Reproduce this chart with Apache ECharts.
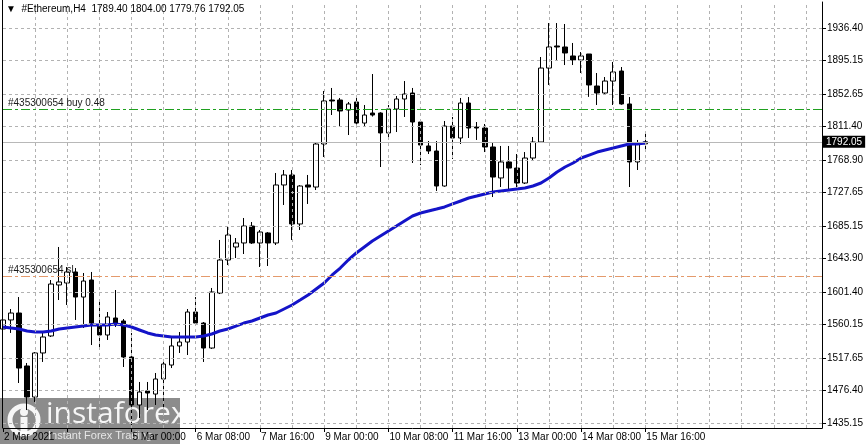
<!DOCTYPE html>
<html><head><meta charset="utf-8">
<script src="https://cdn.jsdelivr.net/npm/echarts@6/dist/echarts.min.js"></script>
<style>html,body{margin:0;padding:0;background:#fff}#c{width:868px;height:444px}</style>
</head><body><div id="c"></div><script>
// ---- data ----
const opens  = [1554.4,1565.9,1574.7,1507.5,1468.1,1524.0,1545.6,1610.3,1612.8,1626.8,1595.0,1616.6,1559.5,1546.8,1568.4,1564.6,1518.9,1458.0,1475.8,1471.9,1491.0,1508.7,1532.9,1537.9,1576.0,1562.0,1530.3,1600.1,1642.0,1658.5,1663.6,1685.1,1663.6,1676.3,1663.6,1737.2,1749.9,1687.7,1737.2,1734.6,1789.2,1845.0,1845.0,1832.3,1842.5,1815.8,1828.5,1828.5,1803.2,1833.6,1846.3,1853.9,1817.1,1786.7,1780.3,1735.9,1812.0,1796.8,1841.2,1810.8,1809.5,1785.4,1746.1,1766.4,1758.7,1739.7,1771.4,1791.7,1885.6,1913.6,1912.3,1900.9,1895.8,1903.4,1862.8,1853.9,1869.1,1881.8,1840.0,1766.4,1789.40];
const closes = [1565.9,1574.7,1504.9,1468.1,1524.0,1544.3,1611.5,1614.1,1626.8,1595.0,1615.3,1562.0,1546.8,1569.7,1562.0,1518.9,1458.0,1474.5,1473.2,1491.0,1510.0,1532.9,1537.9,1576.0,1562.0,1530.3,1601.4,1642.0,1673.7,1663.6,1685.1,1663.6,1677.5,1663.6,1737.2,1749.9,1687.7,1735.9,1734.6,1789.2,1843.8,1843.8,1831.1,1840.0,1815.8,1826.0,1826.0,1803.2,1833.6,1846.3,1852.6,1817.1,1787.9,1780.3,1735.9,1812.0,1796.8,1841.2,1809.5,1809.5,1785.4,1747.3,1766.4,1758.7,1739.7,1771.4,1791.7,1885.6,1912.3,1912.3,1904.7,1895.8,1900.9,1864.1,1853.9,1869.1,1880.6,1840.0,1766.4,1790.5,1792.05];
const highs  = [1574.7,1579.8,1595.0,1511.3,1525.2,1549.4,1616.6,1658.5,1633.1,1631.8,1625.5,1626.8,1588.7,1576.0,1603.9,1567.1,1549.4,1487.2,1487.2,1498.6,1516.4,1543.0,1550.6,1579.8,1595.0,1563.3,1606.5,1667.4,1685.1,1669.9,1695.3,1690.2,1680.1,1677.5,1752.4,1756.2,1756.2,1737.0,1749.9,1791.7,1856.5,1860.3,1847.6,1842.5,1847.6,1838.7,1878.0,1829.5,1838.7,1850.1,1869.1,1860.3,1818.0,1793.0,1793.0,1818.4,1823.5,1847.6,1848.8,1817.1,1814.6,1791.7,1786.7,1786.7,1776.5,1779.0,1798.1,1899.6,1942.7,1942.7,1941.5,1917.4,1905.9,1903.4,1879.3,1874.2,1893.3,1886.9,1848.8,1794.3,1804.00];
const lows   = [1531.6,1549.4,1485.9,1451.6,1461.8,1512.6,1544.3,1591.2,1584.9,1565.9,1555.7,1534.1,1530.3,1540.5,1557.0,1506.2,1432.6,1441.5,1451.6,1458.0,1455.5,1504.9,1524.0,1521.4,1562.0,1512.6,1529.1,1598.8,1635.6,1644.5,1649.6,1662.3,1633.1,1634.4,1661.0,1711.8,1667.4,1680.1,1713.1,1730.8,1772.7,1826.0,1812.0,1800.6,1814.0,1812.0,1824.0,1760.0,1796.8,1804.4,1823.5,1765.1,1762.5,1776.5,1729.6,1735.0,1770.2,1789.2,1796.8,1794.3,1779.0,1721.9,1734.6,1730.8,1734.6,1738.4,1768.9,1790.5,1864.1,1895.8,1889.4,1889.4,1879.3,1849.0,1838.7,1852.0,1838.7,1839.0,1734.6,1756.2,1779.76];
const maValues = [1557.0,1555.7,1554.4,1551.9,1550.6,1550.6,1551.9,1554.4,1555.7,1557.0,1558.2,1559.5,1559.5,1559.5,1560.8,1559.5,1557.0,1553.2,1549.4,1546.8,1545.6,1544.3,1544.3,1544.3,1544.3,1545.6,1548.1,1551.9,1554.4,1558.2,1562.0,1564.6,1568.4,1572.2,1574.7,1579.8,1584.9,1591.2,1597.6,1605.2,1612.8,1623.0,1631.8,1642.0,1650.9,1658.5,1666.1,1672.5,1678.8,1685.1,1691.5,1697.8,1701.6,1704.2,1706.7,1709.3,1713.1,1716.9,1720.7,1723.2,1725.8,1728.3,1729.6,1730.8,1732.1,1733.4,1735.9,1739.7,1746.1,1753.7,1760.0,1765.1,1771.4,1775.2,1779.0,1781.6,1784.1,1786.7,1789.2,1789.2,1790.5];
const yTicks = [1435.15,1476.40,1517.65,1560.15,1601.40,1643.90,1685.15,1727.65,1768.90,1811.40,1852.65,1895.15,1936.40];
const tickLabels = ['2 Mar 2021','','5 Mar 00:00','6 Mar 08:00','7 Mar 16:00','9 Mar 00:00','10 Mar 08:00','11 Mar 16:00','13 Mar 00:00','14 Mar 08:00','15 Mar 16:00'];
const titleText = '\u25BC  #Ethereum,H4  1789.40 1804.00 1779.76 1792.05';
const buyLevel = 1833.0, slLevel = 1620.8, lastPrice = 1792.05;
const buyLabel = '#435300654 buy 0.48', slLabel = '#435300654 sl';

// ---- layout helpers ----
const totalSlots = 103;
const nBars = opens.length;
const cats = [];
for (let i = 0; i < totalSlots; i++) cats.push(i < nBars ? 'bar' + i : 'pad' + i);
const candleData = opens.map((o, i) => [o, closes[i], lows[i], highs[i]]);
const FONT = '"Liberation Sans", Arial, sans-serif';
const lastTickIdx = (tickLabels.length - 1) * 8;
const GRID = '#b2b2b2';

const chart = echarts.init(document.getElementById('c'), null, {renderer: 'canvas'});
chart.setOption({
  animation: false,
  backgroundColor: '#ffffff',
  textStyle: {fontFamily: FONT},
  grid: {left: 3, right: 46, top: 2, bottom: 16, containLabel: false},
  xAxis: {
    type: 'category', data: cats, boundaryGap: false,
    axisLine: {show: true, onZero: false, lineStyle: {color: '#000', width: 1}},
    axisTick: {show: true, length: 4, interval: (i) => i % 8 === 0 && i <= lastTickIdx, lineStyle: {color: '#000'}},
    axisLabel: {
      show: true, interval: (i) => i % 8 === 0 && i <= lastTickIdx,
      formatter: (v, i) => (i % 8 === 0 && tickLabels[i / 8]) ? tickLabels[i / 8] : '',
      align: 'left', margin: 4, color: '#000', fontSize: 10, fontFamily: FONT, padding: [0, 0, 0, 1]
    },
    splitLine: {show: false}
  },
  yAxis: {
    type: 'value', position: 'right', min: 1428.8, max: 1969.4, scale: true,
    axisLine: {show: true, lineStyle: {color: '#000', width: 1}},
    axisTick: {show: true, length: 4, customValues: yTicks, lineStyle: {color: '#000'}},
    axisLabel: {show: true, customValues: yTicks, margin: 5, color: '#000', fontSize: 10, fontFamily: FONT,
      formatter: (v) => Number(v).toFixed(2)},
    splitLine: {show: false}
  },
  series: [
    {
      name: 'grid', type: 'line', data: cats.map(() => null), z: 1, silent: true, symbol: 'none',
      markLine: {
        silent: true, symbol: ['none', 'none'], animation: false,
        label: {show: false},
        lineStyle: {type: [3, 3], color: GRID, width: 1},
        data: yTicks.map(v => ({yAxis: v})).concat(
          cats.map((c, i) => i).filter(i => i % 4 === 0 && i > 0).map(i => ({xAxis: i}))
        )
      }
    },
    {
      name: 'levels', type: 'line', data: cats.map(() => null), z: 2, silent: true, symbol: 'none',
      markLine: {
        silent: true, symbol: ['none', 'none'], animation: false,
        data: [
          {yAxis: buyLevel, lineStyle: {type: [9, 3, 3, 3], color: '#1fa01f', width: 1},
           label: {show: true, position: 'insideStartTop', formatter: buyLabel, color: '#1a1a1a', fontSize: 10, fontFamily: FONT, distance: [5, 1]}},
          {yAxis: slLevel, lineStyle: {type: [9, 3, 3, 3], color: '#e49a6c', width: 1},
           label: {show: true, position: 'insideStartTop', formatter: slLabel, color: '#1a1a1a', fontSize: 10, fontFamily: FONT, distance: [5, 1]}},
          {yAxis: lastPrice, lineStyle: {type: 'solid', color: '#b8b8b8', width: 1},
           label: {show: true, position: 'end', formatter: () => lastPrice.toFixed(2), color: '#fff', backgroundColor: '#000',
                   fontSize: 10, fontFamily: FONT, padding: [1, 3, 1, 3], distance: 1}}
        ]
      }
    },
    {
      name: 'price', type: 'candlestick', data: candleData, z: 3, barWidth: 5, clip: true,
      itemStyle: {color: '#ffffff', color0: '#000000', borderColor: '#000000', borderColor0: '#000000', borderWidth: 1}
    },
    {
      name: 'MA', type: 'line', data: maValues, z: 4, symbol: 'none', smooth: false, silent: true,
      lineStyle: {color: '#1414c8', width: 3}
    }
  ],
  graphic: [
    {type: 'line', shape: {x1: 2.5, y1: 0, x2: 2.5, y2: 428}, style: {stroke: '#000', lineWidth: 1}, z: 10},
    {type: 'text', left: 6, top: 4, style: {text: titleText, font: '10px ' + FONT, fill: '#000'}, z: 10},
    {
      type: 'group', left: 0, top: 398, z: 20,
      children: [
        {type: 'rect', shape: {x: 0, y: 0, width: 180, height: 46}, style: {fill: 'rgba(115,115,115,0.82)'}},
        {type: 'circle', shape: {cx: 24, cy: 22, r: 14}, style: {fill: 'none', stroke: 'rgba(255,255,255,0.92)', lineWidth: 5}},
        {type: 'circle', shape: {cx: 24, cy: 14, r: 4}, style: {fill: 'rgba(255,255,255,0.92)'}},
        {type: 'rect', shape: {x: 20.5, y: 19, width: 7, height: 17}, style: {fill: 'rgba(255,255,255,0.92)'}},
        {type: 'text', x: 46, y: 1, style: {text: 'instaforex', font: '30px "Open Sans", sans-serif', fill: 'rgba(255,255,255,0.92)'}},
        {type: 'text', x: 48, y: 32, style: {text: 'Instant Forex Trading', font: '11px ' + FONT, fill: 'rgba(240,240,240,0.9)'}}
      ]
    }
  ]
});
</script></body></html>
